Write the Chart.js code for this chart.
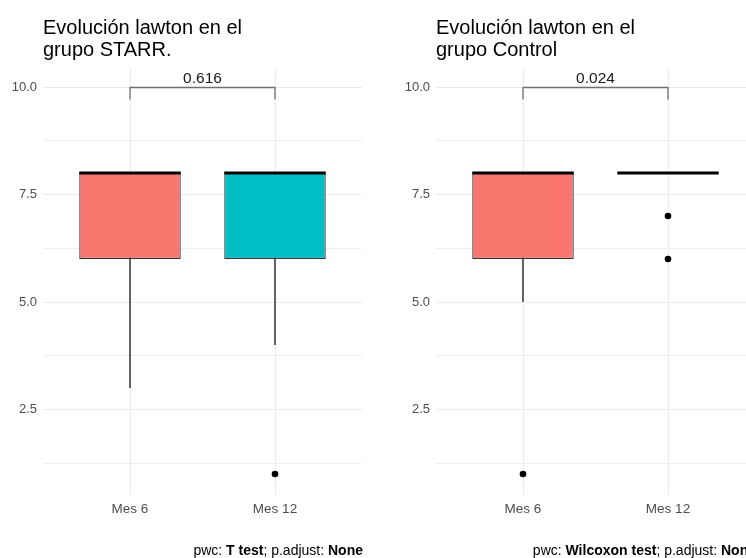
<!DOCTYPE html>
<html>
<head>
<meta charset="utf-8">
<script src="https://cdn.jsdelivr.net/npm/chart.js@4.4.1/dist/chart.umd.min.js"></script>
<style>
  html, body { margin: 0; padding: 0; background: #fff; }
  body { width: 746px; height: 558px; overflow: hidden; position: relative; }
  .panel { position: absolute; top: 0; width: 393px; height: 558px; }
</style>
</head>
<body>
<div class="panel" style="left:0"><canvas id="starr" width="393" height="558"></canvas></div>
<div class="panel" style="left:393px"><canvas id="control" width="393" height="558"></canvas></div>
<script>
// Shared axes
const categories = ['Mes 6', 'Mes 12'];
const yTicks = [2.5, 5, 7.5, 10];
const boxColors = ['#F8766D', '#00BFC4'];
const bracketY = 10;

// Grupo STARR: whisker ends, quartiles, medians and outlying points per visit
const starrLower = [3, 4];
const starrQ1 = [6, 6];
const starrMedian = [8, 8];
const starrQ3 = [8, 8];
const starrUpper = [8, 8];
const starrOutliers = [[], [1]];
const starrP = '0.616';
const starrTitle = ['Evolución lawton en el', 'grupo STARR.'];
const starrCaption = [['pwc: ', false], ['T test', true], ['; p.adjust: ', false], ['None', true]];

// Grupo Control
const controlLower = [5, 8];
const controlQ1 = [6, 8];
const controlMedian = [8, 8];
const controlQ3 = [8, 8];
const controlUpper = [8, 8];
const controlOutliers = [[1], [7, 6]];
const controlP = '0.024';
const controlTitle = ['Evolución lawton en el', 'grupo Control'];
const controlCaption = [['pwc: ', false], ['Wilcoxon test', true], ['; p.adjust: ', false], ['None', true]];

const FONT = "'Liberation Sans', Arial, sans-serif";
const GRID = '#EBEBEB';
const AXIS_TEXT = '#4D4D4D';

function makeBoxChart(canvasId, g) {
  const yMajors = yTicks.slice();
  const step = yTicks[1] - yTicks[0];

  const datasets = [];
  datasets.push({
    type: 'bar',
    data: categories.map((c, i) => ({ x: i + 1, y: [g.q1[i], g.q3[i]] })),
    backgroundColor: boxColors,
    borderColor: '#333333',
    borderWidth: 1.2,
    borderSkipped: false,
    categoryPercentage: 1,
    barPercentage: 0.7,
    order: 1
  });
  categories.forEach((c, i) => {
    datasets.push({
      type: 'line',
      data: [{ x: i + 1, y: g.lower[i] }, { x: i + 1, y: g.upper[i] }],
      borderColor: '#333333',
      borderWidth: 1.5,
      pointRadius: 0,
      fill: false,
      order: 2
    });
  });
  const outPts = [];
  g.outliers.forEach((list, i) => list.forEach(v => outPts.push({ x: i + 1, y: v })));
  datasets.push({
    type: 'scatter',
    data: outPts,
    backgroundColor: '#000',
    borderWidth: 0,
    pointRadius: 3.3,
    order: 0
  });

  const extras = {
    id: 'boxExtras',
    afterDatasetsDraw(chart) {
      const { ctx, scales: { x, y } } = chart;
      ctx.save();
      // medians across each box
      const meta = chart.getDatasetMeta(0);
      ctx.strokeStyle = '#000';
      ctx.lineWidth = 2.8;
      meta.data.forEach((bar, i) => {
        const py = y.getPixelForValue(g.median[i]);
        ctx.beginPath();
        ctx.moveTo(bar.x - bar.width / 2, py);
        ctx.lineTo(bar.x + bar.width / 2, py);
        ctx.stroke();
      });
      // comparison bracket with p value
      const x1 = x.getPixelForValue(1);
      const x2 = x.getPixelForValue(categories.length);
      const by = Math.round(y.getPixelForValue(bracketY)) + 0.5;
      ctx.strokeStyle = '#6f6f6f';
      ctx.lineWidth = 1.3;
      ctx.beginPath();
      ctx.moveTo(x1, by + 12);
      ctx.lineTo(x1, by);
      ctx.lineTo(x2, by);
      ctx.lineTo(x2, by + 12);
      ctx.stroke();
      ctx.fillStyle = '#1a1a1a';
      ctx.font = '15.5px ' + FONT;
      ctx.textAlign = 'center';
      ctx.textBaseline = 'alphabetic';
      ctx.fillText(g.p, (x1 + x2) / 2, by - 5);
      ctx.restore();
    },
    afterDraw(chart) {
      const { ctx, chartArea } = chart;
      ctx.save();
      // title
      ctx.fillStyle = '#000';
      ctx.font = '20px ' + FONT;
      ctx.textAlign = 'left';
      ctx.textBaseline = 'alphabetic';
      g.title.forEach((line, i) => ctx.fillText(line, chartArea.left, 34 + i * 22));
      // caption, right aligned with the panel
      const size = 14;
      const fontFor = bold => (bold ? 'bold ' : '') + size + 'px ' + FONT;
      let total = 0;
      g.caption.forEach(([t, b]) => { ctx.font = fontFor(b); total += ctx.measureText(t).width; });
      let cx = chartArea.right + 1 - total;
      g.caption.forEach(([t, b]) => {
        ctx.font = fontFor(b);
        ctx.fillText(t, cx, 555);
        cx += ctx.measureText(t).width;
      });
      ctx.restore();
    }
  };

  return new Chart(document.getElementById(canvasId), {
    type: 'bar',
    data: { datasets },
    plugins: [extras],
    options: {
      responsive: false,
      animation: false,
      events: [],
      layout: { padding: { left: 0, right: 31, top: 68, bottom: 34 } },
      plugins: { legend: { display: false }, tooltip: { enabled: false }, title: { display: false } },
      scales: {
        x: {
          type: 'linear',
          min: 0.4,
          max: categories.length + 0.6,
          offset: false,
          bounds: 'data',
          grid: { offset: false, color: GRID, lineWidth: 1, drawTicks: false },
          border: { display: false },
          afterBuildTicks(scale) { scale.ticks = categories.map((c, i) => ({ value: i + 1 })); },
          afterFit(scale) { scale.height = 30; },
          ticks: {
            padding: 7,
            color: AXIS_TEXT,
            font: { family: FONT, size: 13.5 },
            callback: v => categories[Math.round(v) - 1]
          }
        },
        y: {
          type: 'linear',
          min: 0.535,
          max: 10.442,
          beginAtZero: false,
          bounds: 'data',
          grid: {
            color: GRID,
            lineWidth: ctx => (ctx.tick && yMajors.includes(ctx.tick.value)) ? 1 : 0.8,
            drawTicks: false
          },
          border: { display: false },
          afterBuildTicks(scale) {
            const t = [];
            yMajors.forEach(v => { t.push({ value: v - step / 2 }); t.push({ value: v }); });
            scale.ticks = t;
          },
          afterFit(scale) { scale.width = 43; },
          ticks: {
            padding: 6,
            color: AXIS_TEXT,
            font: { family: FONT, size: 13 },
            callback: v => yMajors.includes(v) ? v.toFixed(1) : ''
          }
        }
      }
    }
  });
}

makeBoxChart('starr', {
  lower: starrLower, q1: starrQ1, median: starrMedian, q3: starrQ3, upper: starrUpper,
  outliers: starrOutliers, p: starrP, title: starrTitle, caption: starrCaption
});
makeBoxChart('control', {
  lower: controlLower, q1: controlQ1, median: controlMedian, q3: controlQ3, upper: controlUpper,
  outliers: controlOutliers, p: controlP, title: controlTitle, caption: controlCaption
});
</script>
</body>
</html>
